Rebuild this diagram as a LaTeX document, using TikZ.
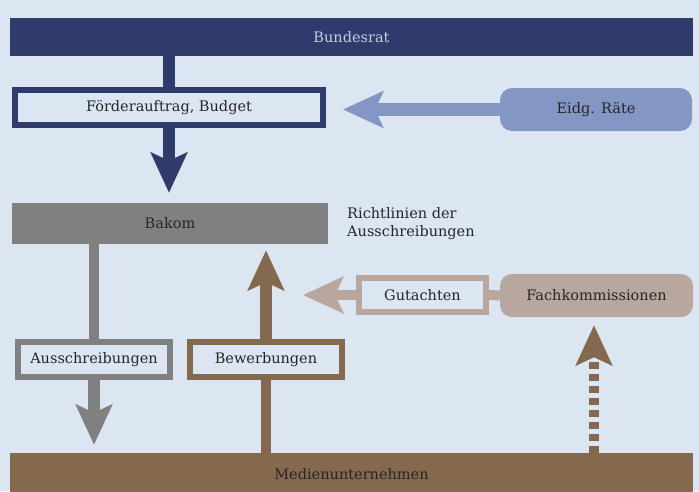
\documentclass[tikz,border=0pt]{standalone}
\usepackage{fontspec}
\setmainfont{DejaVu Serif}
\usetikzlibrary{arrows.meta}
\definecolor{bgblue}{HTML}{DCE6F2}
\definecolor{navy}{HTML}{2F3B6B}
\definecolor{navytext}{HTML}{C3CCE3}
\definecolor{eidg}{HTML}{8496C4}
\definecolor{bakomgray}{HTML}{808080}
\definecolor{brown}{HTML}{85694F}
\definecolor{tan}{HTML}{B7A79E}
\definecolor{txt}{HTML}{262626}
\tikzset{
  lbl/.style={font=\fontsize{14.5}{17}\selectfont, text=txt, inner sep=0pt},
  solidbox/.style={lbl, draw=none},
  framebox/.style={lbl, line width=6pt, fill=bgblue},
  bigarrow/.style={-{Stealth[length=40pt 0 0, width=36pt 0 0, inset=8pt 0 0]}}
}
\begin{document}
\begin{tikzpicture}[x=1pt,y=-1pt]
\fill[bgblue] (0,0) rectangle (699,491);
\useasboundingbox (0,0) rectangle (699,491);

% top row
\node[solidbox, fill=navy, text=navytext, minimum width=683pt, minimum height=38pt] (br) at (351.5,37) {Bundesrat};
\node[framebox, draw=navy, minimum width=308pt, minimum height=35pt] (foerder) at (169,107.5) {Förderauftrag, Budget};
\node[solidbox, fill=eidg, rounded corners=12pt, minimum width=192pt, minimum height=43pt] (eidg) at (596,109.5) {Eidg. Räte};

% middle
\node[solidbox, fill=bakomgray, minimum width=316pt, minimum height=41pt] (bakom) at (170,223.5) {Bakom};
\node[lbl, anchor=north west, align=left] (richt) at (347,207) {Richtlinien der\\[1pt]Ausschreibungen};
\node[framebox, draw=tan, minimum width=127pt, minimum height=34pt] (gut) at (422.5,295) {Gutachten};
\node[solidbox, fill=tan, rounded corners=12pt, minimum width=193pt, minimum height=43pt] (fach) at (596.5,295.5) {Fachkommissionen};

% lower
\node[framebox, draw=bakomgray, minimum width=152pt, minimum height=35pt] (aus) at (94,359.5) {Ausschreibungen};
\node[framebox, draw=brown, minimum width=152pt, minimum height=35pt] (bew) at (266,359.5) {Bewerbungen};
\node[solidbox, fill=brown, minimum width=683pt, minimum height=42pt] (medien) at (351.5,474) {Medienunternehmen};

% coordinates for arrow tips
\coordinate (tipA) at ([yshift=10pt]bakom.north -| foerder.south);
\coordinate (tipB) at ([xshift=17pt]foerder.east |- eidg.west);
\coordinate (tipC) at ([yshift=8pt]medien.north -| aus.south);
\coordinate (tipD) at ([yshift=-6pt]bakom.south -| bew.north);
\coordinate (tipE) at ([xshift=-53pt]gut.west);
\coordinate (dashStart) at (medien.north -| 594,0);
\coordinate (tipF) at ([yshift=-8pt]fach.south -| dashStart);

% connectors
\draw[navy, line width=12pt] (br.south -| foerder.north) -- (foerder.north);
\draw[bakomgray, line width=10pt] (bakom.south -| aus.north) -- (aus.north);
\draw[brown, line width=10pt] (medien.north -| bew.south) -- (bew.south);
\draw[tan, line width=10pt] (fach.west) -- (gut.east);

\draw[navy, line width=12pt, bigarrow] (foerder.south) -- (tipA);
\draw[eidg, line width=13pt, bigarrow] (eidg.west) -- (tipB);
\draw[bakomgray, line width=12pt, bigarrow] (aus.south) -- (tipC);
\draw[brown, line width=12pt, bigarrow] (bew.north) -- (tipD);
\draw[tan, line width=10pt, bigarrow] (gut.west) -- (tipE);
\draw[brown, line width=10pt, dash pattern=on 7pt off 5pt, bigarrow] (dashStart) -- (tipF);

% redraw framed boxes over connectors
\node[framebox, draw=navy, minimum width=308pt, minimum height=35pt] at (foerder) {Förderauftrag, Budget};
\node[framebox, draw=bakomgray, minimum width=152pt, minimum height=35pt] at (aus) {Ausschreibungen};
\node[framebox, draw=brown, minimum width=152pt, minimum height=35pt] at (bew) {Bewerbungen};
\node[framebox, draw=tan, minimum width=127pt, minimum height=34pt] at (gut) {Gutachten};
\end{tikzpicture}
\end{document}
